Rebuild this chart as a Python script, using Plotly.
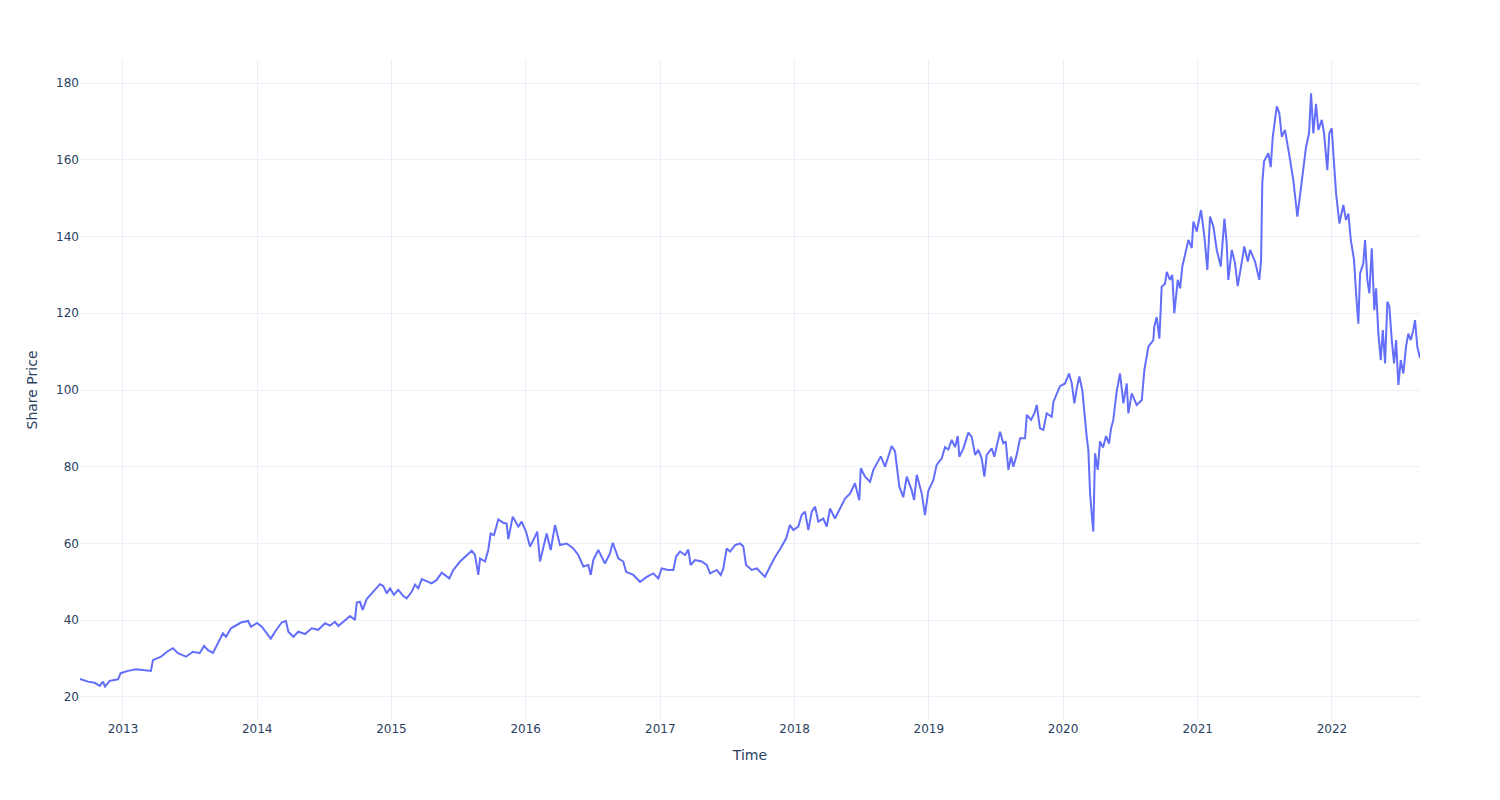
import pandas as pd
import plotly.graph_objects as go

# Time in fractional years
time_years = [
    2012.680, 2012.739, 2012.789, 2012.827, 2012.851, 2012.866, 2012.901, 2012.963, 2012.983, 2013.037,
    2013.097, 2013.162, 2013.208, 2013.223, 2013.283, 2013.328, 2013.372, 2013.409, 2013.469, 2013.521,
    2013.571, 2013.603, 2013.633, 2013.670, 2013.707, 2013.744, 2013.767, 2013.804, 2013.878, 2013.931,
    2013.953, 2013.998, 2014.033, 2014.070, 2014.100, 2014.132, 2014.181, 2014.213, 2014.231, 2014.268,
    2014.305, 2014.355, 2014.405, 2014.454, 2014.504, 2014.541, 2014.578, 2014.603, 2014.653, 2014.690,
    2014.727, 2014.740, 2014.764, 2014.784, 2014.814, 2014.863, 2014.913, 2014.938, 2014.963, 2014.988,
    2015.017, 2015.049, 2015.087, 2015.112, 2015.149, 2015.174, 2015.198, 2015.224, 2015.261, 2015.298,
    2015.335, 2015.373, 2015.429, 2015.459, 2015.509, 2015.559, 2015.596, 2015.620, 2015.645, 2015.658,
    2015.695, 2015.719, 2015.737, 2015.762, 2015.794, 2015.831, 2015.856, 2015.868, 2015.901, 2015.943,
    2015.968, 2016.000, 2016.030, 2016.067, 2016.084, 2016.104, 2016.154, 2016.184, 2016.216, 2016.253,
    2016.303, 2016.352, 2016.389, 2016.427, 2016.464, 2016.482, 2016.501, 2016.538, 2016.588, 2016.625,
    2016.646, 2016.687, 2016.724, 2016.745, 2016.799, 2016.849, 2016.899, 2016.948, 2016.985, 2017.010,
    2017.059, 2017.097, 2017.117, 2017.147, 2017.184, 2017.208, 2017.226, 2017.258, 2017.308, 2017.345,
    2017.370, 2017.420, 2017.450, 2017.469, 2017.494, 2017.519, 2017.556, 2017.593, 2017.618, 2017.638,
    2017.680, 2017.718, 2017.755, 2017.779, 2017.817, 2017.854, 2017.891, 2017.936, 2017.965, 2017.990,
    2018.027, 2018.052, 2018.077, 2018.102, 2018.127, 2018.152, 2018.176, 2018.213, 2018.239, 2018.263,
    2018.300, 2018.338, 2018.375, 2018.412, 2018.449, 2018.481, 2018.492, 2018.524, 2018.561, 2018.586,
    2018.611, 2018.641, 2018.673, 2018.697, 2018.722, 2018.747, 2018.760, 2018.779, 2018.809, 2018.834,
    2018.871, 2018.889, 2018.909, 2018.946, 2018.970, 2018.995, 2019.032, 2019.057, 2019.095, 2019.119,
    2019.144, 2019.169, 2019.194, 2019.214, 2019.226, 2019.256, 2019.293, 2019.318, 2019.343, 2019.367,
    2019.392, 2019.412, 2019.430, 2019.467, 2019.486, 2019.529, 2019.553, 2019.571, 2019.591, 2019.611,
    2019.628, 2019.653, 2019.678, 2019.715, 2019.728, 2019.760, 2019.784, 2019.802, 2019.826, 2019.851,
    2019.876, 2019.914, 2019.926, 2019.951, 2019.975, 2020.013, 2020.042, 2020.063, 2020.082, 2020.100,
    2020.119, 2020.141, 2020.156, 2020.174, 2020.186, 2020.199, 2020.211, 2020.223, 2020.236, 2020.256,
    2020.273, 2020.296, 2020.318, 2020.340, 2020.355, 2020.372, 2020.397, 2020.422, 2020.447, 2020.472,
    2020.484, 2020.509, 2020.546, 2020.584, 2020.603, 2020.633, 2020.670, 2020.677, 2020.695, 2020.715,
    2020.732, 2020.757, 2020.770, 2020.794, 2020.811, 2020.826, 2020.852, 2020.869, 2020.886, 2020.906,
    2020.931, 2020.956, 2020.968, 2020.993, 2021.025, 2021.050, 2021.072, 2021.092, 2021.117, 2021.142,
    2021.172, 2021.199, 2021.216, 2021.228, 2021.254, 2021.278, 2021.298, 2021.323, 2021.347, 2021.373,
    2021.390, 2021.427, 2021.459, 2021.472, 2021.481, 2021.494, 2021.526, 2021.544, 2021.559, 2021.589,
    2021.608, 2021.626, 2021.650, 2021.682, 2021.712, 2021.742, 2021.767, 2021.787, 2021.807, 2021.829,
    2021.844, 2021.861, 2021.881, 2021.898, 2021.924, 2021.941, 2021.965, 2021.980, 2021.998, 2022.010,
    2022.030, 2022.055, 2022.084, 2022.104, 2022.122, 2022.140, 2022.164, 2022.179, 2022.196, 2022.209,
    2022.233, 2022.246, 2022.263, 2022.278, 2022.296, 2022.315, 2022.328, 2022.345, 2022.363, 2022.378,
    2022.395, 2022.412, 2022.427, 2022.445, 2022.462, 2022.477, 2022.494, 2022.512, 2022.531, 2022.551,
    2022.568, 2022.586, 2022.605, 2022.618, 2022.635, 2022.655,
]

share_price = [
    24.7, 24.0, 23.7, 22.9, 24.0, 22.7, 24.2, 24.6, 26.2, 26.8,
    27.2, 27.0, 26.8, 29.6, 30.5, 31.8, 32.7, 31.4, 30.5, 31.8,
    31.4, 33.3, 32.2, 31.5, 34.0, 36.6, 35.7, 37.9, 39.4, 39.8,
    38.3, 39.3, 38.3, 36.4, 35.2, 37.0, 39.4, 39.8, 37.0, 35.7,
    37.0, 36.4, 37.9, 37.5, 39.2, 38.6, 39.6, 38.5, 40.1, 41.1,
    40.1, 44.6, 44.8, 42.7, 45.5, 47.4, 49.4, 48.9, 47.0, 48.3,
    46.6, 47.9, 46.3, 45.7, 47.4, 49.3, 48.3, 50.7, 50.1, 49.6,
    50.5, 52.4, 50.9, 53.1, 55.3, 57.0, 58.1, 57.0, 51.8, 56.1,
    55.3, 58.3, 62.6, 62.2, 66.3, 65.4, 65.2, 61.1, 67.0, 64.4,
    65.7, 63.1, 59.2, 61.8, 63.1, 55.3, 62.6, 58.3, 64.8, 59.6,
    60.0, 58.7, 57.0, 54.0, 54.4, 51.8, 55.7, 58.3, 54.8, 57.4,
    60.2, 56.1, 55.3, 52.6, 51.8, 50.0, 51.3, 52.2, 50.9, 53.5,
    53.1, 53.1, 56.6, 57.9, 57.0, 58.4, 54.4, 55.7, 55.3, 54.4,
    52.2, 53.1, 51.8, 53.5, 58.7, 57.9, 59.6, 60.0, 59.2, 54.4,
    53.1, 53.5, 52.2, 51.3, 54.0, 56.5, 58.5, 61.3, 64.8, 63.5,
    64.4, 67.4, 68.3, 63.5, 68.3, 69.6, 65.7, 66.5, 64.4, 69.1,
    66.5, 69.1, 71.7, 73.0, 75.7, 71.3, 79.6, 77.4, 76.1, 79.2,
    80.9, 82.7, 80.0, 82.7, 85.4, 84.0, 80.0, 74.8, 72.1, 77.4,
    73.9, 71.3, 77.9, 73.0, 67.4, 73.7, 76.5, 80.5, 82.2, 85.1,
    84.5, 87.0, 85.1, 88.0, 82.6, 84.8, 88.9, 87.8, 83.1, 84.4,
    82.2, 77.4, 83.1, 84.8, 82.6, 89.1, 86.1, 86.6, 79.2, 82.6,
    80.0, 83.1, 87.4, 87.4, 93.5, 92.2, 93.9, 96.1, 90.0, 89.6,
    93.9, 93.0, 96.9, 99.1, 101.0, 101.7, 104.3, 101.7, 96.5, 100.4,
    103.5, 100.0, 93.9, 87.8, 84.4, 73.1, 67.8, 63.1, 83.5, 79.2,
    86.6, 85.0, 88.0, 86.0, 90.0, 92.2, 99.6, 104.3, 96.5, 101.7,
    93.9, 99.1, 96.1, 97.4, 105.2, 111.3, 113.0, 116.5, 119.0, 113.4,
    126.9, 127.7, 130.8, 128.7, 130.0, 120.0, 128.7, 126.5, 132.2, 135.2,
    139.1, 137.0, 143.9, 141.3, 146.9, 140.0, 131.3, 145.2, 142.6, 136.5,
    132.2, 144.7, 138.2, 128.7, 136.5, 133.0, 127.1, 132.2, 137.4, 133.5,
    136.5, 133.5, 128.7, 133.9, 153.9, 159.6, 161.7, 158.1, 166.0, 173.9,
    172.1, 166.0, 167.8, 161.2, 154.7, 145.2, 152.1, 158.2, 163.4, 166.9,
    177.3, 166.9, 174.6, 167.8, 170.4, 166.9, 157.3, 166.9, 168.2, 161.7,
    151.3, 143.4, 148.2, 144.3, 146.0, 139.1, 133.9, 125.2, 117.3, 130.4,
    133.0, 139.1, 128.7, 125.2, 136.9, 120.8, 126.5, 114.7, 107.8, 115.6,
    106.9, 123.0, 121.7, 113.0, 106.9, 113.0, 101.3, 107.8, 104.3, 111.3,
    114.7, 113.0, 115.6, 118.2, 111.3, 108.3,
]

base = pd.Timestamp("2013-01-01")
dates = [base + pd.to_timedelta((t - 2013.0) * 365.25, unit="D") for t in time_years]

fig = go.Figure()
fig.add_trace(go.Scatter(
    x=dates,
    y=share_price,
    mode="lines",
    line=dict(color="#636efa", width=2),
    showlegend=False,
))

fig.update_layout(
    template="plotly_white",
    width=1500,
    height=800,
    font=dict(family="DejaVu Sans", color="#2a3f5f"),
    margin=dict(l=80, r=80, t=60, b=80),
    xaxis=dict(title=dict(text="Time")),
    yaxis=dict(title=dict(text="Share Price"), range=[14, 186]),
)

fig.write_html("out.html")
